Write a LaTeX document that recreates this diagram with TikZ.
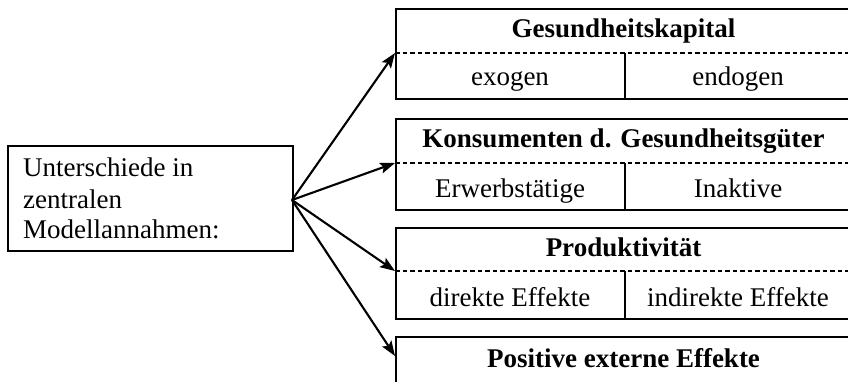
\documentclass[tikz,border=0pt]{standalone}
\usepackage{fontspec}
\setmainfont{Liberation Serif}
\usetikzlibrary{arrows.meta}
\begin{document}
\begin{tikzpicture}[x=1pt,y=-1pt,
  txt/.style={font=\fontsize{27}{30.5}\selectfont, inner sep=0pt},
  ttl/.style={txt, font=\fontsize{27}{30.5}\selectfont\bfseries, anchor=base},
  cell/.style={txt, anchor=base},
  frame/.style={draw, line width=2pt, inner sep=0pt},
  sep/.style={line width=1.6pt, dash pattern=on 4.5pt off 3pt},
  div/.style={line width=1.8pt},
  arr/.style={line width=2.1pt, -{Stealth[length=15pt,width=11pt,inset=3pt]}}]
\useasboundingbox (0,0) rectangle (848,382);
\clip (0,0) rectangle (848,382);
\fill[white] (0,0) rectangle (848,382);

% source box
\node[frame, anchor=north west, minimum width=285pt, minimum height=105pt] (src) at (7,145) {};
\node[txt, anchor=base west] (l1) at (23,177) {Unterschiede in};
\node[txt, anchor=base west] (l2) at (23,208) {zentralen};
\node[txt, anchor=base west] (l3) at (23,238) {Modellannahmen:};
\coordinate (hub) at (292,200);

% category boxes
\node[frame, anchor=north west, minimum width=457pt, minimum height=90pt] (b1) at (395,8) {};
\node[frame, anchor=north west, minimum width=457pt, minimum height=91pt] (b2) at (395,118) {};
\node[frame, anchor=north west, minimum width=457pt, minimum height=91pt] (b3) at (395,227) {};
\node[frame, anchor=north west, minimum width=457pt, minimum height=90pt] (b4) at (395,336) {};

\coordinate (s1) at (395,53);
\coordinate (s2) at (395,163);
\coordinate (s3) at (395,271);
\coordinate (s4) at (395,356);

\draw[sep] (s1) -- (s1 -| b1.east);
\draw[sep] (s2) -- (s2 -| b2.east);
\draw[sep] (s3) -- (s3 -| b3.east);

\draw[div] (625,53) -- (625,98);
\draw[div] (625,163) -- (625,209);
\draw[div] (625,271) -- (625,318);

\node[ttl] (t1) at (623.5,38) {Gesundheitskapital};
\node[cell] (c1a) at (510,86) {exogen};
\node[cell] (c1b) at (738,86) {endogen};

\node[ttl] (t2) at (623.5,148) {Konsumenten d. Gesundheitsgüter};
\node[cell] (c2a) at (510,197) {Erwerbstätige};
\node[cell] (c2b) at (738,197) {Inaktive};

\node[ttl] (t3) at (623.5,256) {Produktivität};
\node[cell] (c3a) at (510,306) {direkte Effekte};
\node[cell] (c3b) at (738,306) {indirekte Effekte};

\node[ttl] (t4) at (623.5,367) {Positive externe Effekte};

% connectors
\draw[arr] (hub) -- (s1);
\draw[arr] (hub) -- (s2);
\draw[arr] (hub) -- (s3);
\draw[arr] (hub) -- (s4);
\end{tikzpicture}
\end{document}
